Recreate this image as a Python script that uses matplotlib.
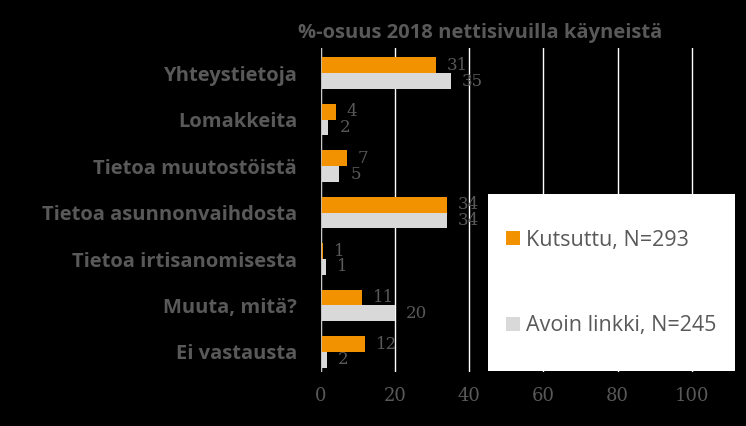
import numpy as np
import matplotlib.pyplot as plt
from matplotlib.patches import Rectangle

categories = ["Yhteystietoja", "Lomakkeita", "Tietoa muutostöistä",
              "Tietoa asunnonvaihdosta", "Tietoa irtisanomisesta",
              "Muuta, mitä?", "Ei vastausta"]
kutsuttu = [31, 4, 7, 34, 0.6, 11, 12]
avoin = [35, 2, 5, 34, 1.3, 20, 1.6]
kutsuttu_labels = [31, 4, 7, 34, 1, 11, 12]
avoin_labels = [35, 2, 5, 34, 1, 20, 2]
series_names = ["Kutsuttu, N=293", "Avoin linkki, N=245"]
title = "%-osuus 2018 nettisivuilla käyneistä"

orange = "#f39200"
light = "#d9d9d9"
gray = "#595959"

fig = plt.figure(figsize=(7.46, 4.26), dpi=100, facecolor="black")
ax = fig.add_axes([0.430, 0.127, 0.547, 0.760], facecolor="black")

y = np.arange(len(categories))
h = 0.34
b1 = ax.barh(y - h/2, kutsuttu, height=h, color=orange, zorder=3)
b2 = ax.barh(y + h/2, avoin, height=h, color=light, zorder=3)

for i in range(len(categories)):
    ax.text(kutsuttu[i] + 3, y[i] - h/2, str(kutsuttu_labels[i]), color=gray,
            va="center", ha="left", fontsize=12, family="DejaVu Serif", zorder=4)
    ax.text(avoin[i] + 3, y[i] + h/2, str(avoin_labels[i]), color=gray,
            va="center", ha="left", fontsize=12, family="DejaVu Serif", zorder=4)

ax.set_xlim(0, 110)
ax.set_ylim(6.43, -0.54)
ax.set_xticks([0, 20, 40, 60, 80, 100])
ax.set_yticks(y)
ax.set_yticklabels(categories, fontsize=14.5, fontweight="bold", color=gray,
                   family="Open Sans")
ax.tick_params(axis="x", colors=gray, labelsize=13, length=0, pad=11)
ax.tick_params(axis="y", length=0, pad=17)
for lab in ax.get_xticklabels():
    lab.set_family("DejaVu Serif")
ax.xaxis.grid(True, color="white", linewidth=1, zorder=0)
for s in ax.spines.values():
    s.set_visible(False)
ax.axvline(0, color="#bfbfbf", linewidth=1.2, zorder=4)

fig.text(480/746, 1 - 33/426, title, ha="center", va="center", color=gray,
         fontsize=14.5, fontweight="bold", family="Open Sans")

fig.patches.append(Rectangle((488/746, 1 - 371/426), 247/746, 177/426,
                             transform=fig.transFigure, facecolor="white",
                             edgecolor="none", zorder=5))
leg = fig.legend([b1, b2], series_names, loc="center left",
                 bbox_to_anchor=(0.652, 1 - 283/426), frameon=False,
                 labelspacing=3.0, handlelength=0.65, handleheight=0.65,
                 handletextpad=0.3, prop={"family": "Open Sans", "size": 15.5})
leg.set_zorder(6)
for t in leg.get_texts():
    t.set_color(gray)

fig.savefig("out.png", dpi=100, facecolor="black")
